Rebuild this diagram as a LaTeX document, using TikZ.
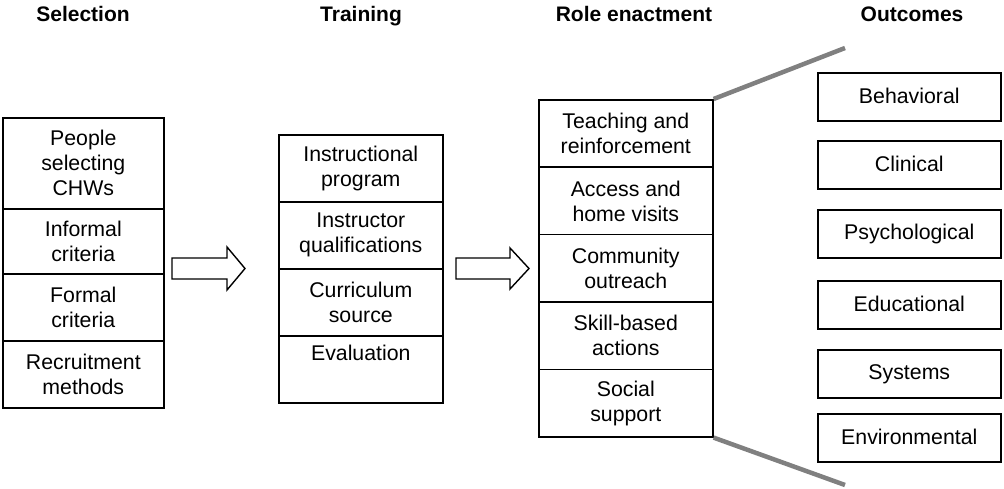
\documentclass[tikz,border=0pt]{standalone}
\usepackage{fontspec}
\setmainfont{Liberation Sans}
\begin{document}
\begin{tikzpicture}[x=1pt,y=-1pt,
  cell/.style={draw, line width=1.6pt, anchor=north west, align=center, inner sep=0pt,
    font=\fontsize{21.3}{25}\selectfont},
  head/.style={anchor=base, font=\fontsize{21}{25}\selectfont\bfseries},
  blockarrow/.style={draw, line width=1.4pt, fill=white},
  fan/.style={draw=black!50, line width=4.5pt}]
\useasboundingbox (0,0) rectangle (1004,489);
% headers
\node[head] (hsel) at (83,22) {Selection};
\node[head] (htra) at (361,22) {Training};
\node[head] (hrol) at (634,22) {Role enactment};
\node[head] (hout) at (912,22) {Outcomes};
% selection
\node[cell, minimum width=161pt, minimum height=91pt] (s1) at (2,117) {People\\selecting\\CHWs};
\node[cell, minimum width=161pt, minimum height=65pt] (s2) at (2,208) {Informal\\criteria};
\node[cell, minimum width=161pt, minimum height=67pt] (s3) at (2,273) {Formal\\criteria};
\node[cell, minimum width=161pt, minimum height=67pt] (s4) at (2,340) {Recruitment\\methods};
% training
\node[cell, minimum width=164pt, minimum height=67pt] (t1) at (278,134) {Instructional\\program};
\node[cell, minimum width=164pt, minimum height=67pt] (t2) at (278,201) {Instructor\\qualifications};
\node[cell, minimum width=164pt, minimum height=67pt] (t3) at (278,268) {Curriculum\\source};
\node[cell, minimum width=164pt, minimum height=67pt] (t4) at (278,335) {Evaluation\\\strut};
% role enactment
\node[cell, minimum width=174pt, minimum height=67.4pt] (r1) at (538,99) {Teaching and\\reinforcement};
\node[cell, minimum width=174pt, minimum height=67.4pt] (r2) at (538,166.4) {Access and\\home visits};
\node[cell, minimum width=174pt, minimum height=67.4pt] (r3) at (538,233.8) {Community\\outreach};
\node[cell, minimum width=174pt, minimum height=67.4pt] (r4) at (538,301.2) {Skill-based\\actions};
\node[cell, minimum width=174pt, minimum height=67.4pt] (r5) at (538,368.6) {Social\\support};
% outcomes
\node[cell, minimum width=183pt, minimum height=48pt] (o1) at (817,72) {Behavioral\rule[-3pt]{0pt}{0pt}};
\node[cell, minimum width=183pt, minimum height=48pt] (o2) at (817,140) {Clinical\rule[-3pt]{0pt}{0pt}};
\node[cell, minimum width=183pt, minimum height=48pt] (o3) at (817,209) {Psychological};
\node[cell, minimum width=183pt, minimum height=48pt] (o4) at (817,280) {Educational\rule[-3pt]{0pt}{0pt}};
\node[cell, minimum width=183pt, minimum height=48pt] (o5) at (817,349) {Systems};
\node[cell, minimum width=183pt, minimum height=48pt] (o6) at (817,413) {Environmental\rule[-3pt]{0pt}{0pt}};
% block arrows
\draw[blockarrow] (172,258) -- (227,258) -- (227,247) -- (245,268.5) -- (227,290) -- (227,279) -- (172,279) -- cycle;
\draw[blockarrow] (456,258) -- (510,258) -- (510,248) -- (529,268.5) -- (510,289) -- (510,279) -- (456,279) -- cycle;
% fan lines
\coordinate (ftop) at (845,48);
\coordinate (fbot) at (845,485);
\draw[fan] (r1.north east) -- (ftop);
\draw[fan] (r5.south east) -- (fbot);
\end{tikzpicture}
\end{document}
